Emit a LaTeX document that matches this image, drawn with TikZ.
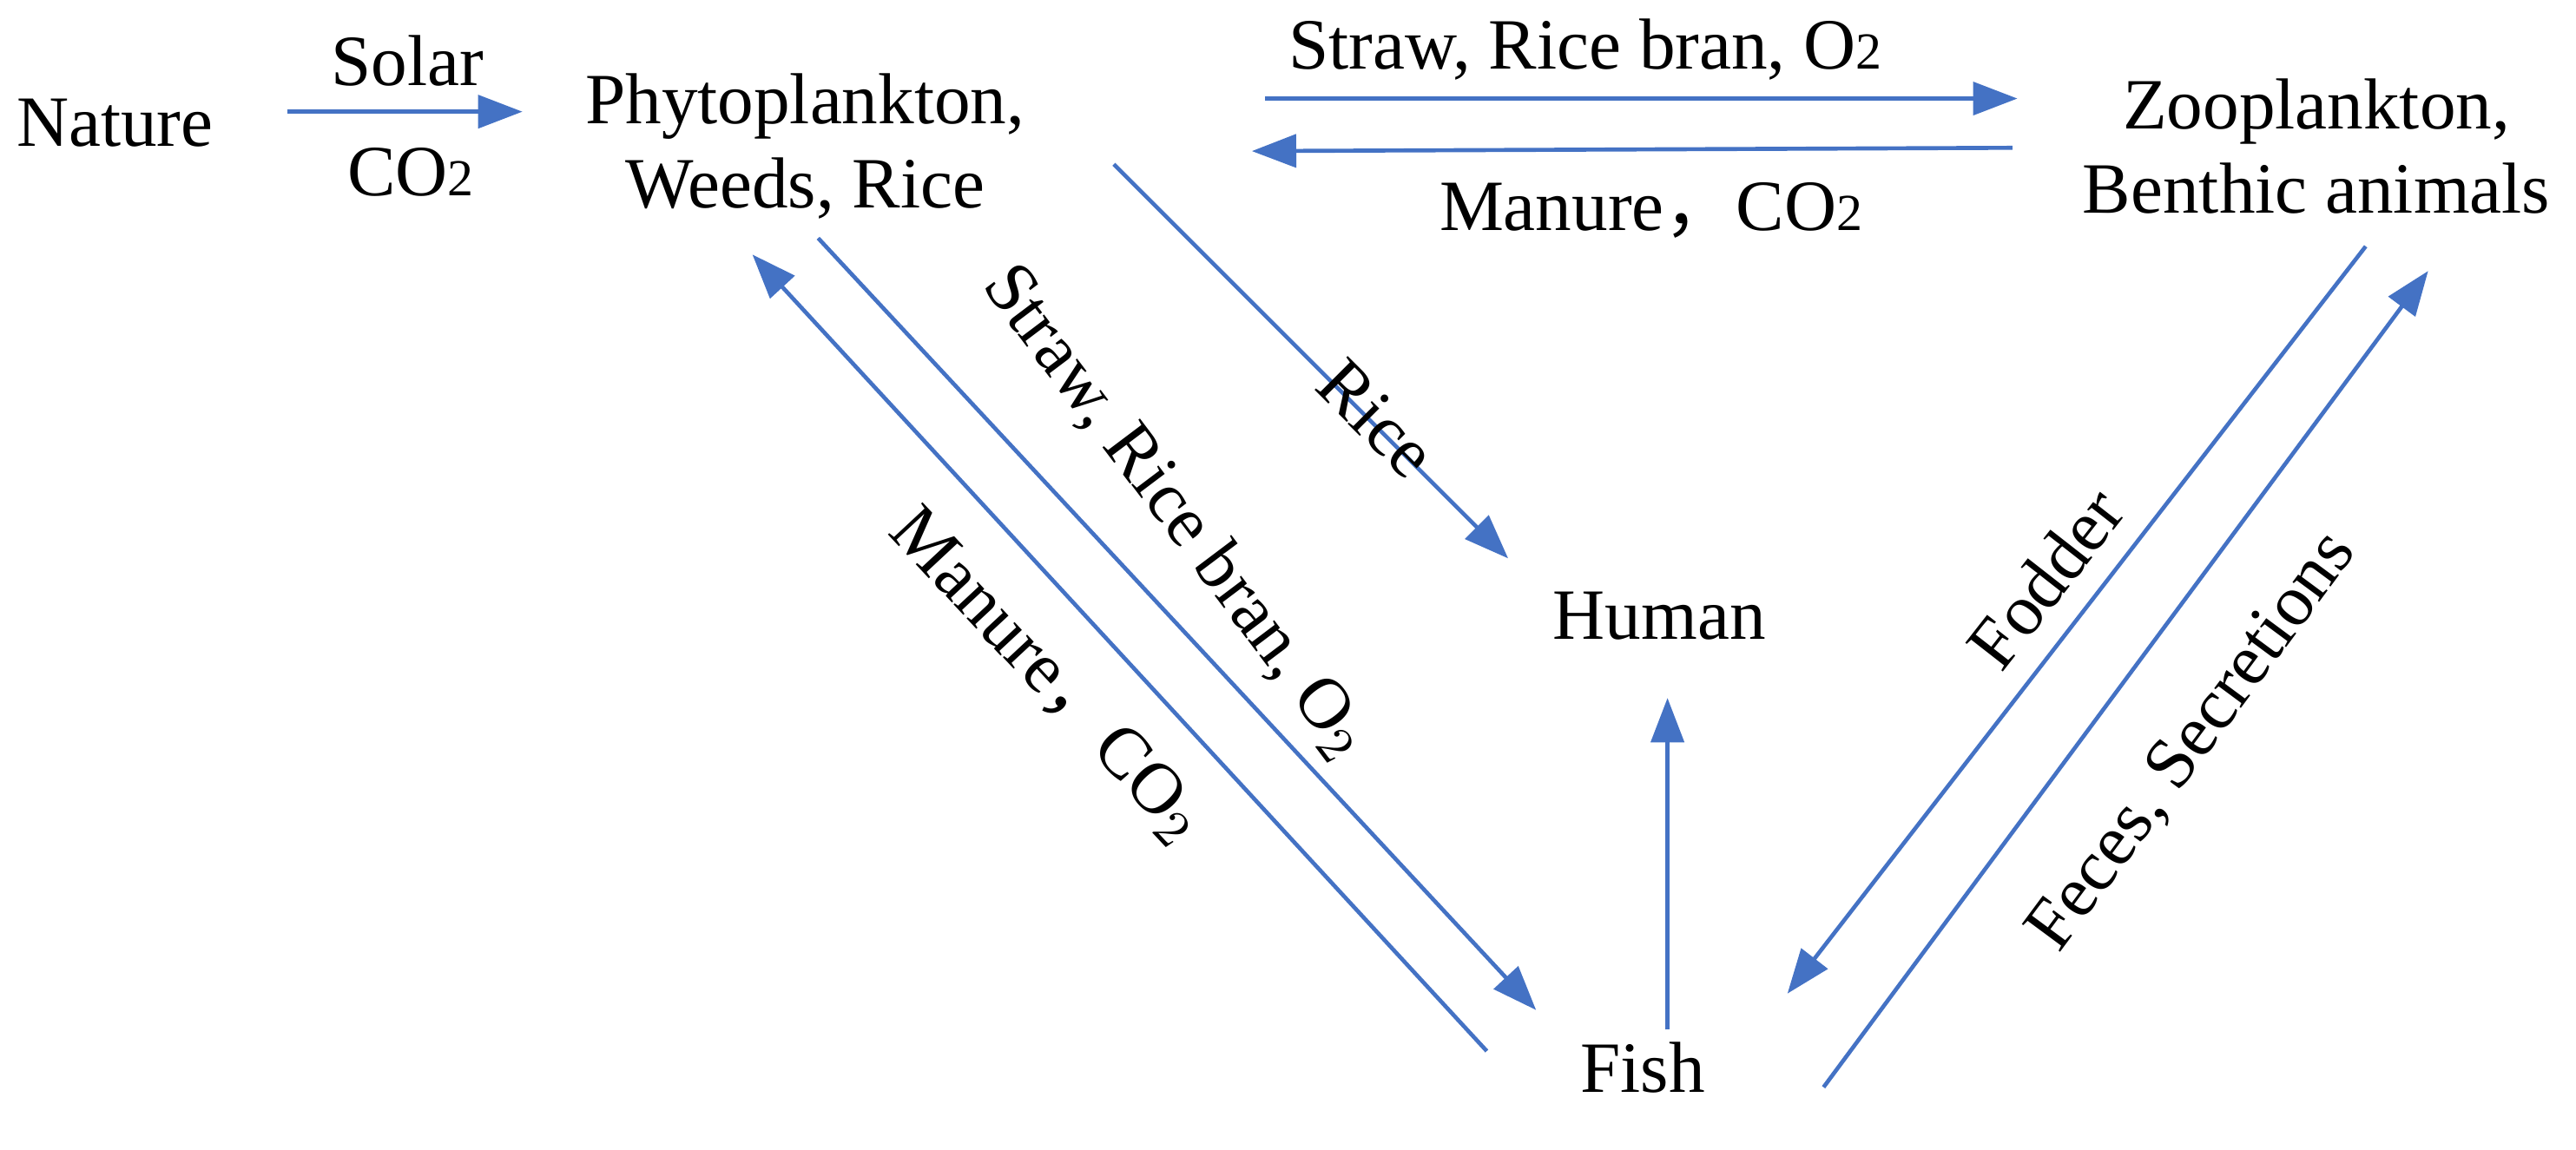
\documentclass[tikz,border=0pt]{standalone}
\usepackage{fontspec}
\setmainfont{Liberation Serif}
\newfontfamily\cjk{Noto Sans CJK SC}
\usetikzlibrary{arrows.meta}
\definecolor{ablue}{RGB}{68,114,196}
\begin{document}
\begin{tikzpicture}[x=0.01cm,y=-0.01cm,
  lbl/.style={font=\fontsize{12.5}{14.5}\selectfont, inner sep=0pt, align=center},
  flow/.style={draw=ablue, line width=0.7pt, -{Triangle[length=0.27cm,width=0.2cm]}}]
\useasboundingbox (0,0) rectangle (1568,700);
\node[lbl] (nature) at (70,75) {Nature};
\node[lbl] (phyto) at (490,89) {Phytoplankton,\\Weeds, Rice};
\node[lbl] (zoo) at (1410,89) {Zooplankton,\\Benthic animals};
\node[lbl] (human) at (1010,375) {Human};
\node[lbl] (fish) at (1000,650) {Fish};
\coordinate (a1) at (175,68); \coordinate (a2) at (318,68);
\coordinate (b1) at (770,60); \coordinate (b2) at (1228,60);
\coordinate (c1) at (1225,90); \coordinate (c2) at (762,92);
\coordinate (d1) at (678,100); \coordinate (d2) at (918,340);
\coordinate (e1) at (1015,627); \coordinate (e2) at (1015,425);
\coordinate (f1) at (498,145); \coordinate (f2) at (935,615);
\coordinate (g1) at (905,640); \coordinate (g2) at (458,155);
\coordinate (h1) at (1440,150); \coordinate (h2) at (1088,605);
\coordinate (i1) at (1110,662); \coordinate (i2) at (1478,165);
\draw[flow] (a1) -- (a2);
\draw[flow] (b1) -- (b2);
\draw[flow] (c1) -- (c2);
\draw[flow] (d1) -- (d2);
\draw[flow] (e1) -- (e2);
\draw[flow] (f1) -- (f2);
\draw[flow] (g1) -- (g2);
\draw[flow] (h1) -- (h2);
\draw[flow] (i1) -- (i2);
\node[lbl] (l1) at (248,37) {Solar};
\node[lbl] (l2) at (250,105) {CO{\fontsize{9}{11}\selectfont 2}};
\node[lbl] (l3) at (965,30) {Straw, Rice bran, O{\fontsize{9}{11}\selectfont 2}};
\node[lbl] (l4) at (1005,128) {Manure{\cjk ，}CO{\fontsize{9}{11}\selectfont 2}};
\node[lbl, rotate=-45] (l5) at (838,255) {Rice};
\node[lbl, rotate=-53] (l6) at (716,312) {Straw, Rice bran, O$_2$};
\node[lbl, rotate=-47] (l7) at (637,412) {Manure{\cjk ，}CO$_2$};
\node[lbl, rotate=52] (l8) at (1245,352) {Fodder};
\node[lbl, rotate=53.5] (l9) at (1335,452) {Feces, Secretions};
\end{tikzpicture}
\end{document}
